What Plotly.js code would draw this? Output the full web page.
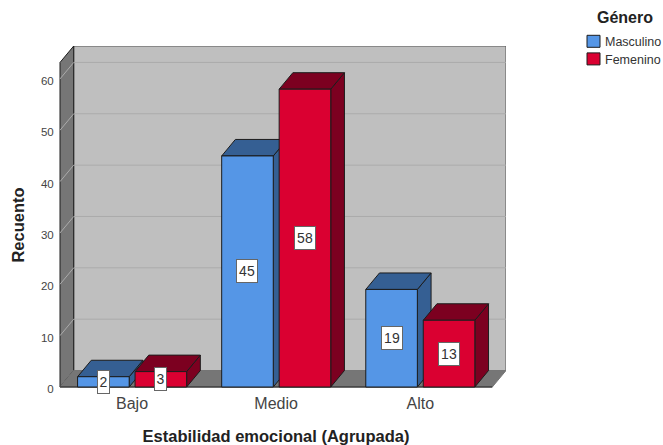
<!DOCTYPE html>
<html><head><meta charset="utf-8">
<script src="https://cdn.plot.ly/plotly-3.0.1.min.js"></script>
<style>html,body{margin:0;padding:0;background:#fff}</style>
</head><body><div id="chart" style="width:663px;height:445px"></div>
<script>
const categories = ['Bajo', 'Medio', 'Alto'];
const masculino = [2, 45, 19];
const femenino = [3, 58, 13];
const yTicks = [0, 10, 20, 30, 40, 50, 60];

const FONT = 'Liberation Sans, Arial, sans-serif';
const depthX = 0.0951, depthY = 3.21;       // oblique projection, in axis units
const barW = 0.358, offM = -0.378, offF = 0.0208;
const xMin = -0.5, xMax = 2.5, yTop = 63.2;
const C = {
  m: '#5596E6', mDark: '#355F93', f: '#DA0031', fDark: '#7C0020',
  wall: '#BFBFBF', side: '#767676', grid: '#ABABAB', edge: '#1c1c1c', wallEdge: '#555555'
};

// plot frame in page pixels; the axes themselves sit inside it (anchor free)
const W = 663, H = 445, plotL = 46, plotR = 506, plotT = 46, plotB = 404;
const axisX = 60, axisY = 387;
const xPerPx = 1 / 144, yPerPx = 1 / 5.135;
const rangeX = [xMin - (axisX - plotL) * xPerPx, xMax + depthX];
const rangeY = [-(plotB - axisY) * yPerPx, yTop + depthY];
const px = x => (x - plotL) / (plotR - plotL);
const py = y => (plotB - y) / (plotB - plotT);

function poly(pts, fill, line, width) {
  const path = 'M' + pts.map(p => p[0] + ',' + p[1]).join('L') + 'Z';
  return {type: 'path', xref: 'x', yref: 'y', layer: 'below', path: path,
          fillcolor: fill, line: {color: line, width: width === undefined ? 1 : width}};
}
function seg(x0, y0, x1, y1, color) {
  return {type: 'line', xref: 'x', yref: 'y', layer: 'below', x0, y0, x1, y1,
          line: {color: color, width: 1}};
}

const shapes = [];
// back wall, left wall, floor
shapes.push(poly([[xMin+depthX,depthY],[xMax+depthX,depthY],[xMax+depthX,yTop+depthY],[xMin+depthX,yTop+depthY]], C.wall, C.wallEdge));
shapes.push(poly([[xMin,0],[xMin+depthX,depthY],[xMin+depthX,yTop+depthY],[xMin,yTop]], C.side, C.edge));
shapes.push(poly([[xMin,0],[xMax,0],[xMax+depthX,depthY],[xMin+depthX,depthY]], C.side, C.side));
// gridlines on the walls
yTicks.slice(1).forEach(v => {
  shapes.push(seg(xMin+depthX, v+depthY, xMax+depthX, v+depthY, C.grid));
  shapes.push(seg(xMin, v, xMin+depthX, v+depthY, C.grid));
});
// bar depth faces
function faces(i, off, val, dark) {
  const a = i + off, b = a + barW;
  shapes.push(poly([[b,0],[b+depthX,depthY],[b+depthX,val+depthY],[b,val]], dark, C.edge));
  shapes.push(poly([[a,val],[b,val],[b+depthX,val+depthY],[a+depthX,val+depthY]], dark, C.edge));
}
categories.forEach((c, i) => {
  faces(i, offM, masculino[i], C.mDark);
  faces(i, offF, femenino[i], C.fDark);
});
shapes.push(seg(xMin, 0, xMax, 0, C.edge));

// value labels
const annotations = [];
function label(i, off, val) {
  annotations.push({
    x: i + off + barW/2, y: val/2, xref: 'x', yref: 'y', text: String(val), showarrow: false,
    font: {family: FONT, size: 14, color: '#333333'}, bgcolor: '#ffffff',
    bordercolor: '#666666', borderwidth: 1, borderpad: 0,
    width: String(val).length > 1 ? 20 : 11, height: 22, align: 'center', valign: 'middle'
  });
}
categories.forEach((c, i) => { label(i, offM, masculino[i]); label(i, offF, femenino[i]); });

// legend block
const legendItems = [['Masculino', C.m, 41.3], ['Femenino', C.f, 58.9]];
legendItems.forEach(it => {
  shapes.push({type: 'rect', xref: 'paper', yref: 'paper', layer: 'above',
    x0: px(587), x1: px(600), y0: py(it[2]-6), y1: py(it[2]+6),
    fillcolor: it[1], line: {color: C.edge, width: 1}});
  annotations.push({xref: 'paper', yref: 'paper', x: px(603), y: py(it[2]+1), xanchor: 'left', yanchor: 'middle',
    text: it[0], showarrow: false, font: {family: FONT, size: 12.5, color: '#333333'}});
});
annotations.push({xref: 'paper', yref: 'paper', x: px(625), y: py(18), xanchor: 'center', yanchor: 'middle',
  text: '<b>Género</b>', showarrow: false, font: {family: FONT, size: 16, color: '#222222'}});

const traces = [
  {type: 'bar', name: 'Masculino', x: categories, y: masculino, width: barW, offset: offM,
   marker: {color: C.m, line: {color: C.edge, width: 1}}},
  {type: 'bar', name: 'Femenino', x: categories, y: femenino, width: barW, offset: offF,
   marker: {color: C.f, line: {color: C.edge, width: 1}}}
];

const layout = {
  width: W, height: H, showlegend: false, barmode: 'group',
  paper_bgcolor: '#ffffff', plot_bgcolor: 'rgba(0,0,0,0)',
  margin: {l: plotL, r: W - plotR, t: plotT, b: H - plotB, pad: 0},
  font: {family: FONT},
  xaxis: {
    type: 'category', range: rangeX, categoryorder: 'array', categoryarray: categories,
    anchor: 'free', position: py(axisY),
    showgrid: false, zeroline: false, showline: false, ticks: '', automargin: false,
    ticklabelstandoff: 5,
    tickfont: {family: FONT, size: 16, color: '#444444'},
    title: {text: '<b>Estabilidad emocional (Agrupada)</b>', standoff: 20,
            font: {family: FONT, size: 16.5, color: '#222222'}}
  },
  yaxis: {
    range: rangeY, tickmode: 'array', tickvals: yTicks, ticktext: yTicks.map(String),
    anchor: 'free', position: px(axisX),
    showgrid: false, zeroline: false, showline: false, ticks: 'outside', ticklen: 4, tickcolor: 'rgba(0,0,0,0)',
    ticklabelshift: 2, automargin: false,
    tickfont: {family: FONT, size: 11.5, color: '#444444'},
    title: {text: '<b>Recuento</b>', standoff: 11, font: {family: FONT, size: 16.5, color: '#222222'}}
  },
  shapes: shapes,
  annotations: annotations
};
Plotly.newPlot('chart', traces, layout, {displayModeBar: false, staticPlot: true});
</script></body></html>
